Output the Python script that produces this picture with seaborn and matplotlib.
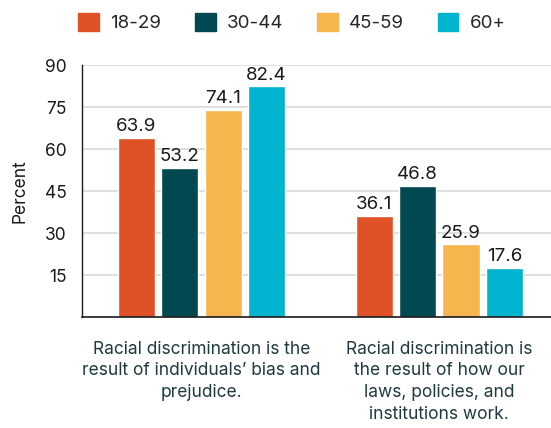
import pandas as pd
import matplotlib.pyplot as plt
import seaborn as sns

# chart values
statements = [
    "Racial discrimination is the\nresult of individuals\u2019 bias and\nprejudice.",
    "Racial discrimination is\nthe result of how our\nlaws, policies, and\ninstitutions work.",
]
age_groups = ["18-29", "30-44", "45-59", "60+"]
pct_18_29 = [63.9, 36.1]
pct_30_44 = [53.2, 46.8]
pct_45_59 = [74.1, 25.9]
pct_60_plus = [82.4, 17.6]
colors = ["#DF5227", "#004852", "#F6B64D", "#00B4CF"]

rows = []
for age, vals in zip(age_groups, [pct_18_29, pct_30_44, pct_45_59, pct_60_plus]):
    for stmt, v in zip(statements, vals):
        rows.append({"statement": stmt, "age": age, "percent": v})
df = pd.DataFrame(rows)

sns.set_style("white")
plt.rcParams['font.family'] = ['Inter', 'DejaVu Sans']

fig = plt.figure(figsize=(5.51, 4.28), dpi=100)
ax = fig.add_axes([0.1488, 0.2593, 0.8512, 0.5888])

sns.barplot(data=df, x="statement", y="percent", hue="age", order=statements,
            hue_order=age_groups, palette=colors, width=0.73, gap=0.145,
            saturation=1, ax=ax, legend=False)

for c in ax.containers:
    ax.bar_label(c, fmt="%.1f", padding=2, fontsize=13.5, color="#1a1a1a")

ax.set_ylim(0, 90)
ax.set_xlim(-0.503, 1.47)
ax.set_yticks([15, 30, 45, 60, 75, 90])
ax.yaxis.grid(True, color="#d9d9d9", linewidth=1.2)
ax.set_axisbelow(True)
ax.tick_params(axis="y", length=0, labelsize=12.5, pad=11, labelcolor="#1a1a1a")
ax.tick_params(axis="x", length=0, labelsize=12.5, pad=17, labelcolor="#1f3a3d")
for lbl in ax.get_xticklabels():
    lbl.set_linespacing(1.36)
ax.set_xlabel("")
ax.set_ylabel("Percent", fontsize=12.5, color="#1a1a1a", labelpad=12)
for s in ["top", "right"]:
    ax.spines[s].set_visible(False)
ax.spines["left"].set_color("#1a1a1a")
ax.spines["bottom"].set_color("#1a1a1a")
ax.spines["left"].set_linewidth(1)
ax.spines["bottom"].set_linewidth(1.2)

handles = [plt.Rectangle((0, 0), 1, 1, color=c) for c in colors]
fig.legend(handles, age_groups, loc="center", bbox_to_anchor=(0.53, 0.947),
           ncol=4, frameon=False, fontsize=13.5, handlelength=1.1, handleheight=1.1,
           columnspacing=1.8, handletextpad=0.6)

fig.savefig("out.png", dpi=100)
